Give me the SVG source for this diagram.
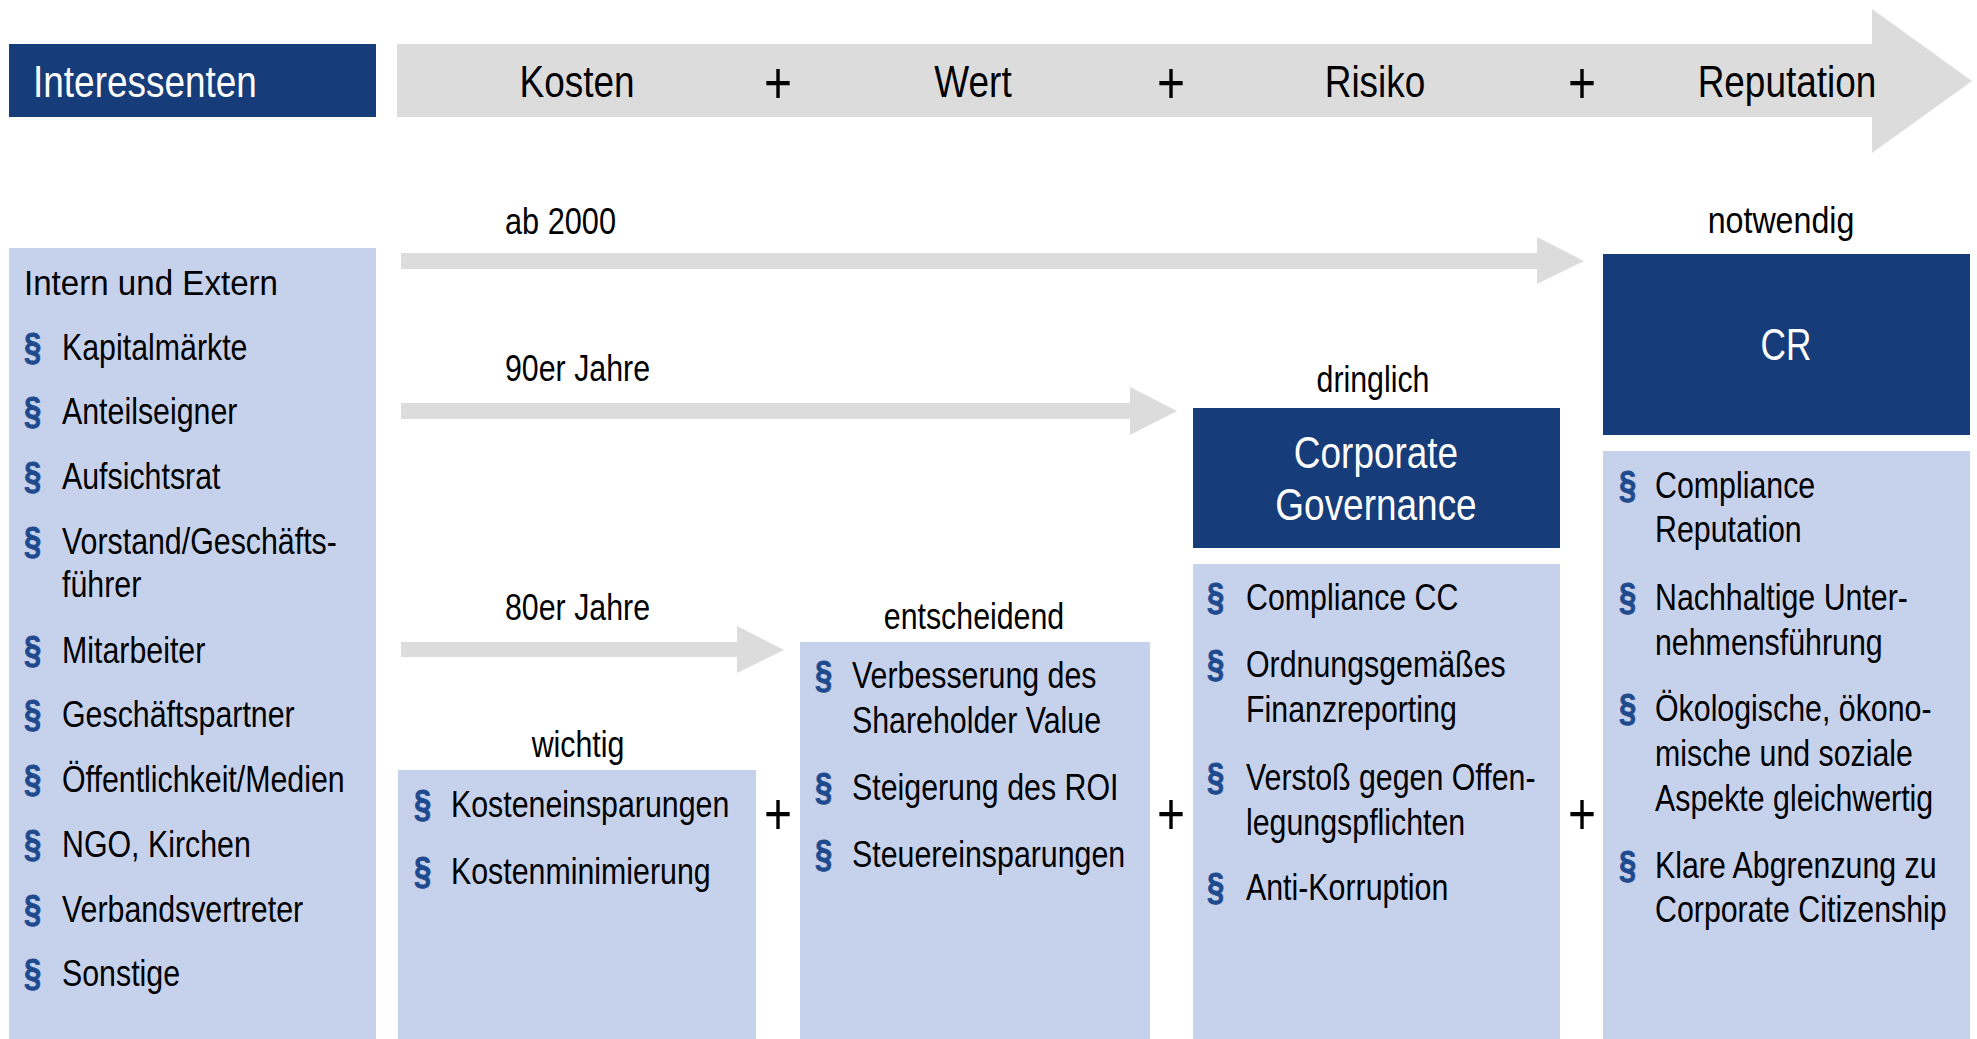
<svg xmlns="http://www.w3.org/2000/svg" width="1977" height="1039" viewBox="0 0 1977 1039">
<style>
text{font-family:"Liberation Sans",Arial,sans-serif;fill:#000}
.hdr{font-size:44px}
.w{fill:#fff}
.b{font-size:37px}
.sub{font-size:36px}
.p{font-size:60px}
.s{font-size:38px;font-weight:bold;fill:#1f4b8e;stroke:#1f4b8e;stroke-width:0.8px}
.m{text-anchor:middle}
.navy{fill:#173c7a}
.lite{fill:#c6d1ec}
.grey{fill:#dcdcdc}
</style>
<rect width="1977" height="1039" fill="#fff"/>

<g id="interessenten">
<rect class="navy" x="9" y="44" width="367" height="73"/>
<text class="hdr w" transform="translate(33,97) scale(0.84,1)">Interessenten</text>
</g>

<g id="header-arrow">
<polygon class="grey" points="397,44 1872,44 1872,9 1972,81 1872,153 1872,117 397,117"/>
<text class="hdr m" transform="translate(577,97) scale(0.84,1)">Kosten</text>
<text class="p m" transform="translate(778,103) scale(0.8,1)">+</text>
<text class="hdr m" transform="translate(973,97) scale(0.84,1)">Wert</text>
<text class="p m" transform="translate(1171,103) scale(0.8,1)">+</text>
<text class="hdr m" transform="translate(1375,97) scale(0.84,1)">Risiko</text>
<text class="p m" transform="translate(1582,103) scale(0.8,1)">+</text>
<text class="hdr m" transform="translate(1787,97) scale(0.84,1)">Reputation</text>
</g>

<g id="connectors">
<polygon class="grey" points="401,253 1537,253 1537,237 1584,261 1537,284 1537,269 401,269"/>
<polygon class="grey" points="401,403 1130,403 1130,387 1177,411 1130,435 1130,419 401,419"/>
<polygon class="grey" points="401,642 737,642 737,626 784,650 737,673 737,657 401,657"/>
<text class="b" transform="translate(505,234) scale(0.83,1)">ab 2000</text>
<text class="b" transform="translate(505,381) scale(0.82,1)">90er Jahre</text>
<text class="b" transform="translate(505,620) scale(0.82,1)">80er Jahre</text>
</g>

<g id="intern-extern">
<rect class="lite" x="9" y="248" width="367" height="791"/>
<text class="sub" transform="translate(24,295) scale(0.92,1)">Intern und Extern</text>
<text class="s" transform="translate(24,360) scale(0.82,1)">§</text>
<text class="b" transform="translate(62,360) scale(0.82,1)">Kapitalmärkte</text>
<text class="s" transform="translate(24,424) scale(0.82,1)">§</text>
<text class="b" transform="translate(62,424) scale(0.82,1)">Anteilseigner</text>
<text class="s" transform="translate(24,489) scale(0.82,1)">§</text>
<text class="b" transform="translate(62,489) scale(0.82,1)">Aufsichtsrat</text>
<text class="s" transform="translate(24,554) scale(0.82,1)">§</text>
<text class="b" transform="translate(62,554) scale(0.82,1)"><tspan x="0" y="0">Vorstand/Geschäfts-</tspan><tspan x="0" y="43">führer</tspan></text>
<text class="s" transform="translate(24,663) scale(0.82,1)">§</text>
<text class="b" transform="translate(62,663) scale(0.82,1)">Mitarbeiter</text>
<text class="s" transform="translate(24,727) scale(0.82,1)">§</text>
<text class="b" transform="translate(62,727) scale(0.82,1)">Geschäftspartner</text>
<text class="s" transform="translate(24,792) scale(0.82,1)">§</text>
<text class="b" transform="translate(62,792) scale(0.82,1)">Öffentlichkeit/Medien</text>
<text class="s" transform="translate(24,857) scale(0.82,1)">§</text>
<text class="b" transform="translate(62,857) scale(0.82,1)">NGO, Kirchen</text>
<text class="s" transform="translate(24,922) scale(0.82,1)">§</text>
<text class="b" transform="translate(62,922) scale(0.82,1)">Verbandsvertreter</text>
<text class="s" transform="translate(24,986) scale(0.82,1)">§</text>
<text class="b" transform="translate(62,986) scale(0.82,1)">Sonstige</text>
</g>

<g id="kosten-wichtig">
<text class="b m" transform="translate(578,757) scale(0.82,1)">wichtig</text>
<rect class="lite" x="398" y="770" width="358" height="269"/>
<text class="s" transform="translate(414,817) scale(0.82,1)">§</text>
<text class="b" transform="translate(451,817) scale(0.82,1)">Kosteneinsparungen</text>
<text class="s" transform="translate(414,884) scale(0.82,1)">§</text>
<text class="b" transform="translate(451,884) scale(0.82,1)">Kostenminimierung</text>
</g>

<text class="p m" transform="translate(778,834) scale(0.8,1)">+</text>

<g id="wert-entscheidend">
<text class="b m" transform="translate(974,629) scale(0.82,1)">entscheidend</text>
<rect class="lite" x="800" y="642" width="350" height="397"/>
<text class="s" transform="translate(815,688) scale(0.82,1)">§</text>
<text class="b" transform="translate(852,688) scale(0.82,1)"><tspan x="0" y="0">Verbesserung des</tspan><tspan x="0" y="45">Shareholder Value</tspan></text>
<text class="s" transform="translate(815,800) scale(0.82,1)">§</text>
<text class="b" transform="translate(852,800) scale(0.82,1)">Steigerung des ROI</text>
<text class="s" transform="translate(815,867) scale(0.82,1)">§</text>
<text class="b" transform="translate(852,867) scale(0.82,1)">Steuereinsparungen</text>
</g>

<text class="p m" transform="translate(1171,834) scale(0.8,1)">+</text>

<g id="corporate-governance">
<text class="b m" transform="translate(1373,392) scale(0.82,1)">dringlich</text>
<rect class="navy" x="1193" y="408" width="367" height="140"/>
<text class="hdr w m" transform="translate(1376,468) scale(0.84,1)"><tspan x="0" y="0">Corporate</tspan><tspan x="0" y="52">Governance</tspan></text>
<rect class="lite" x="1193" y="564" width="367" height="475"/>
<text class="s" transform="translate(1207,610) scale(0.82,1)">§</text>
<text class="b" transform="translate(1246,610) scale(0.82,1)">Compliance CC</text>
<text class="s" transform="translate(1207,677) scale(0.82,1)">§</text>
<text class="b" transform="translate(1246,677) scale(0.82,1)"><tspan x="0" y="0">Ordnungsgemäßes</tspan><tspan x="0" y="45">Finanzreporting</tspan></text>
<text class="s" transform="translate(1207,790) scale(0.82,1)">§</text>
<text class="b" transform="translate(1246,790) scale(0.82,1)"><tspan x="0" y="0">Verstoß gegen Offen-</tspan><tspan x="0" y="45">legungspflichten</tspan></text>
<text class="s" transform="translate(1207,900) scale(0.82,1)">§</text>
<text class="b" transform="translate(1246,900) scale(0.82,1)">Anti-Korruption</text>
</g>

<text class="p m" transform="translate(1582,834) scale(0.8,1)">+</text>

<g id="cr">
<text class="b m" transform="translate(1781,233) scale(0.87,1)">notwendig</text>
<rect class="navy" x="1603" y="254" width="367" height="181"/>
<text class="hdr w m" transform="translate(1786,360) scale(0.8,1)">CR</text>
<rect class="lite" x="1603" y="451" width="367" height="588"/>
<text class="s" transform="translate(1619,498) scale(0.82,1)">§</text>
<text class="b" transform="translate(1655,498) scale(0.82,1)"><tspan x="0" y="0">Compliance</tspan><tspan x="0" y="44">Reputation</tspan></text>
<text class="s" transform="translate(1619,610) scale(0.82,1)">§</text>
<text class="b" transform="translate(1655,610) scale(0.82,1)"><tspan x="0" y="0">Nachhaltige Unter-</tspan><tspan x="0" y="45">nehmensführung</tspan></text>
<text class="s" transform="translate(1619,721) scale(0.82,1)">§</text>
<text class="b" transform="translate(1655,721) scale(0.82,1)"><tspan x="0" y="0">Ökologische, ökono-</tspan><tspan x="0" y="45">mische und soziale</tspan><tspan x="0" y="90">Aspekte gleichwertig</tspan></text>
<text class="s" transform="translate(1619,878) scale(0.82,1)">§</text>
<text class="b" transform="translate(1655,878) scale(0.82,1)"><tspan x="0" y="0">Klare Abgrenzung zu</tspan><tspan x="0" y="44">Corporate Citizenship</tspan></text>
</g>
</svg>
